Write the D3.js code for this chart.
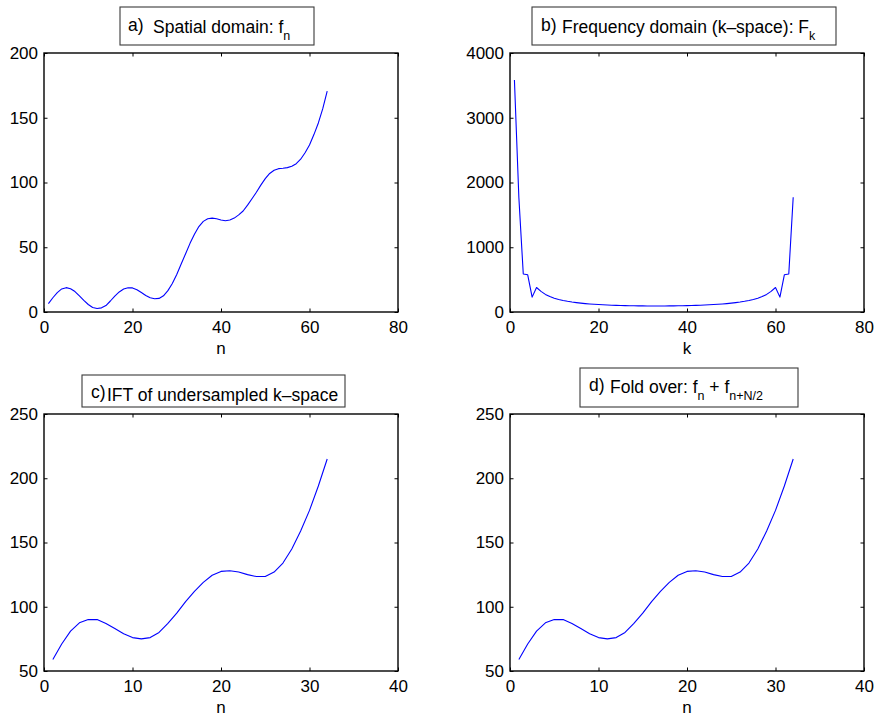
<!DOCTYPE html>
<html>
<head>
<meta charset="utf-8">
<script src="https://cdn.jsdelivr.net/npm/d3@7"></script>
<style>
  body { margin: 0; background: #fff; }
  svg { display: block; }
</style>
</head>
<body>
<svg id="chart" width="875" height="717"></svg>
<script>
// a) spatial domain samples f_n, n = 1..64
const spatialValues = [
    6.5, 11, 15, 17.8, 18.8, 18, 15.8, 12.5, 9, 5.8,
    3.5, 2.7, 3.2, 5, 8.5, 12.3, 15.5, 17.7, 18.7, 18.6,
    17.2, 15, 12.8, 11, 10.2, 10.5, 12.5, 16.5, 22, 29,
    37, 45, 53, 60, 66, 70, 72, 72.5, 72, 71,
    70.5, 71, 72.5, 75, 78, 82.5, 87.5, 92.5, 98, 103,
    107, 109.5, 110.7, 111, 111.5, 112.5, 114.5, 118, 123, 129,
    137, 146, 157, 170.5
];

// b) magnitude of k-space F_k, k = 1..64
const kspaceValues = [
    3583, 1771, 587, 575, 230, 378, 318, 272, 238, 213,
    194, 178, 165, 154, 145, 137, 130, 124, 119, 115,
    111, 108, 105, 103, 101, 99, 97.5, 96, 95, 94,
    93.5, 93, 93, 93, 93.5, 94, 95, 96, 97.5, 99,
    101, 103, 105, 108, 111, 115, 119, 124, 130, 137,
    145, 154, 165, 178, 194, 213, 238, 272, 318, 378,
    230, 575, 587, 1771
];

// c) IFT of undersampled k-space, n = 1..32
const undersampledValues = [
    59, 71, 81, 87.5, 90, 90, 87, 83, 79, 76,
    75, 76, 80, 87, 95, 104, 112, 119, 124.5, 127.5,
    128, 127, 125, 123.5, 123.5, 127, 134, 145, 159, 175,
    194, 215
];

// d) fold over f_n + f_{n+N/2}, n = 1..32
const foldOverValues = [
    59, 71, 81, 87.5, 90, 90, 87, 83, 79, 76,
    75, 76, 80, 87, 95, 104, 112, 119, 124.5, 127.5,
    128, 127, 125, 123.5, 123.5, 127, 134, 145, 159, 175,
    194, 215
];

const xTicksFull = [0, 20, 40, 60, 80];
const xTicksHalf = [0, 10, 20, 30, 40];
const yTicksSpatial = [0, 50, 100, 150, 200];
const yTicksKspace = [0, 1000, 2000, 3000, 4000];
const yTicksFold = [50, 100, 150, 200, 250];

const FONT = "'Liberation Sans', Arial, Helvetica, sans-serif";
const FONT_SIZE = 17;
const TITLE_SIZE = 17.5;
const SUB_SIZE = 12.5;
const TICK_LEN = 3.5;

const svg = d3.select("#chart");

const panels = [
    {
        frame: {left: 44, right: 398, top: 53, bottom: 312},
        values: spatialValues, xTicks: xTicksFull, yTicks: yTicksSpatial, xLabel: "n",
        box: {x: 120, y: 7, w: 194, h: 38},
        title: [
            {t: "a)", x: 128, y: 31},
            {t: "Spatial domain: f", x: 153, y: 32.5},
            {t: "n", sub: true}
        ]
    },
    {
        frame: {left: 510, right: 864, top: 53, bottom: 312},
        values: kspaceValues, xTicks: xTicksFull, yTicks: yTicksKspace, xLabel: "k",
        box: {x: 532, y: 7, w: 304, h: 38},
        title: [
            {t: "b)", x: 541, y: 31},
            {t: "Frequency domain (k\u2013space): F", x: 562, y: 32.5},
            {t: "k", sub: true}
        ]
    },
    {
        frame: {left: 44, right: 398, top: 414, bottom: 671},
        values: undersampledValues, xTicks: xTicksHalf, yTicks: yTicksFold, xLabel: "n",
        box: {x: 82, y: 375, w: 263, h: 32},
        title: [
            {t: "c)", x: 91, y: 397.5},
            {t: "IFT of undersampled k\u2013space", x: 107, y: 400.7}
        ]
    },
    {
        frame: {left: 510, right: 864, top: 414, bottom: 671},
        values: foldOverValues, xTicks: xTicksHalf, yTicks: yTicksFold, xLabel: "n",
        box: {x: 580, y: 368, w: 218, h: 39},
        title: [
            {t: "d)", x: 589, y: 391},
            {t: "Fold over: f", x: 610, y: 392.7},
            {t: "n", sub: true},
            {t: " + f"},
            {t: "n+N/2", sub: true}
        ]
    }
];

function styleAxis(g) {
    g.attr("font-family", FONT).attr("font-size", FONT_SIZE);
    g.select(".domain").remove();
    g.selectAll(".tick line").attr("stroke", "#000").attr("stroke-width", 1);
    g.selectAll(".tick text").attr("fill", "#000");
}

function drawPanel(p) {
    const f = p.frame;
    const xScale = d3.scaleLinear()
        .domain(d3.extent(p.xTicks))
        .range([f.left, f.right]);
    const yScale = d3.scaleLinear()
        .domain(d3.extent(p.yTicks))
        .range([f.bottom, f.top]);

    // bottom axis, ticks pointing inward
    svg.append("g")
        .attr("transform", `translate(0,${f.bottom})`)
        .call(d3.axisBottom(xScale).tickValues(p.xTicks).tickFormat(d3.format("d"))
            .tickSizeInner(-TICK_LEN).tickSizeOuter(0).tickPadding(9.4))
        .call(styleAxis);

    // top axis, ticks only
    svg.append("g")
        .attr("transform", `translate(0,${f.top})`)
        .call(d3.axisTop(xScale).tickValues(p.xTicks).tickSizeInner(-TICK_LEN).tickSizeOuter(0).tickFormat(""))
        .call(styleAxis);

    // left axis, plain numbers without grouping
    svg.append("g")
        .attr("transform", `translate(${f.left},0)`)
        .call(d3.axisLeft(yScale).tickValues(p.yTicks).tickFormat(d3.format("d"))
            .tickSizeInner(-TICK_LEN).tickSizeOuter(0).tickPadding(6))
        .call(styleAxis);

    // right axis, ticks only
    svg.append("g")
        .attr("transform", `translate(${f.right},0)`)
        .call(d3.axisRight(yScale).tickValues(p.yTicks).tickSizeInner(-TICK_LEN).tickSizeOuter(0).tickFormat(""))
        .call(styleAxis);

    // the curve
    const line = d3.line()
        .x((d, i) => xScale(i + 1))
        .y(d => yScale(d));

    svg.append("path")
        .datum(p.values)
        .attr("d", line)
        .attr("fill", "none")
        .attr("stroke", "#0000ff")
        .attr("stroke-width", 1.1)
        .attr("stroke-linejoin", "round");

    // axes frame
    svg.append("rect")
        .attr("x", f.left)
        .attr("y", f.top)
        .attr("width", f.right - f.left)
        .attr("height", f.bottom - f.top)
        .attr("fill", "none")
        .attr("stroke", "#000")
        .attr("stroke-width", 1.4);

    // x axis label
    svg.append("text")
        .attr("x", (f.left + f.right) / 2)
        .attr("y", f.bottom + 42)
        .attr("text-anchor", "middle")
        .attr("font-family", FONT)
        .attr("font-size", FONT_SIZE)
        .text(p.xLabel);

    // title with its box
    svg.append("rect")
        .attr("x", p.box.x)
        .attr("y", p.box.y)
        .attr("width", p.box.w)
        .attr("height", p.box.h)
        .attr("fill", "#fff")
        .attr("stroke", "#3a3a3a")
        .attr("stroke-width", 1.1);

    const title = svg.append("text")
        .attr("font-family", FONT)
        .attr("font-size", TITLE_SIZE)
        .attr("fill", "#000");

    let baseline = 0;
    p.title.forEach(piece => {
        const span = title.append("tspan").text(piece.t);
        if (piece.x !== undefined) {
            span.attr("x", piece.x);
        }
        if (piece.sub) {
            span.attr("y", baseline + 7.5).attr("font-size", SUB_SIZE);
        } else {
            if (piece.y !== undefined && piece.t.length > 2) {
                baseline = piece.y;
            }
            span.attr("y", piece.y !== undefined ? piece.y : baseline);
        }
    });
}

panels.forEach(drawPanel);
</script>
</body>
</html>
